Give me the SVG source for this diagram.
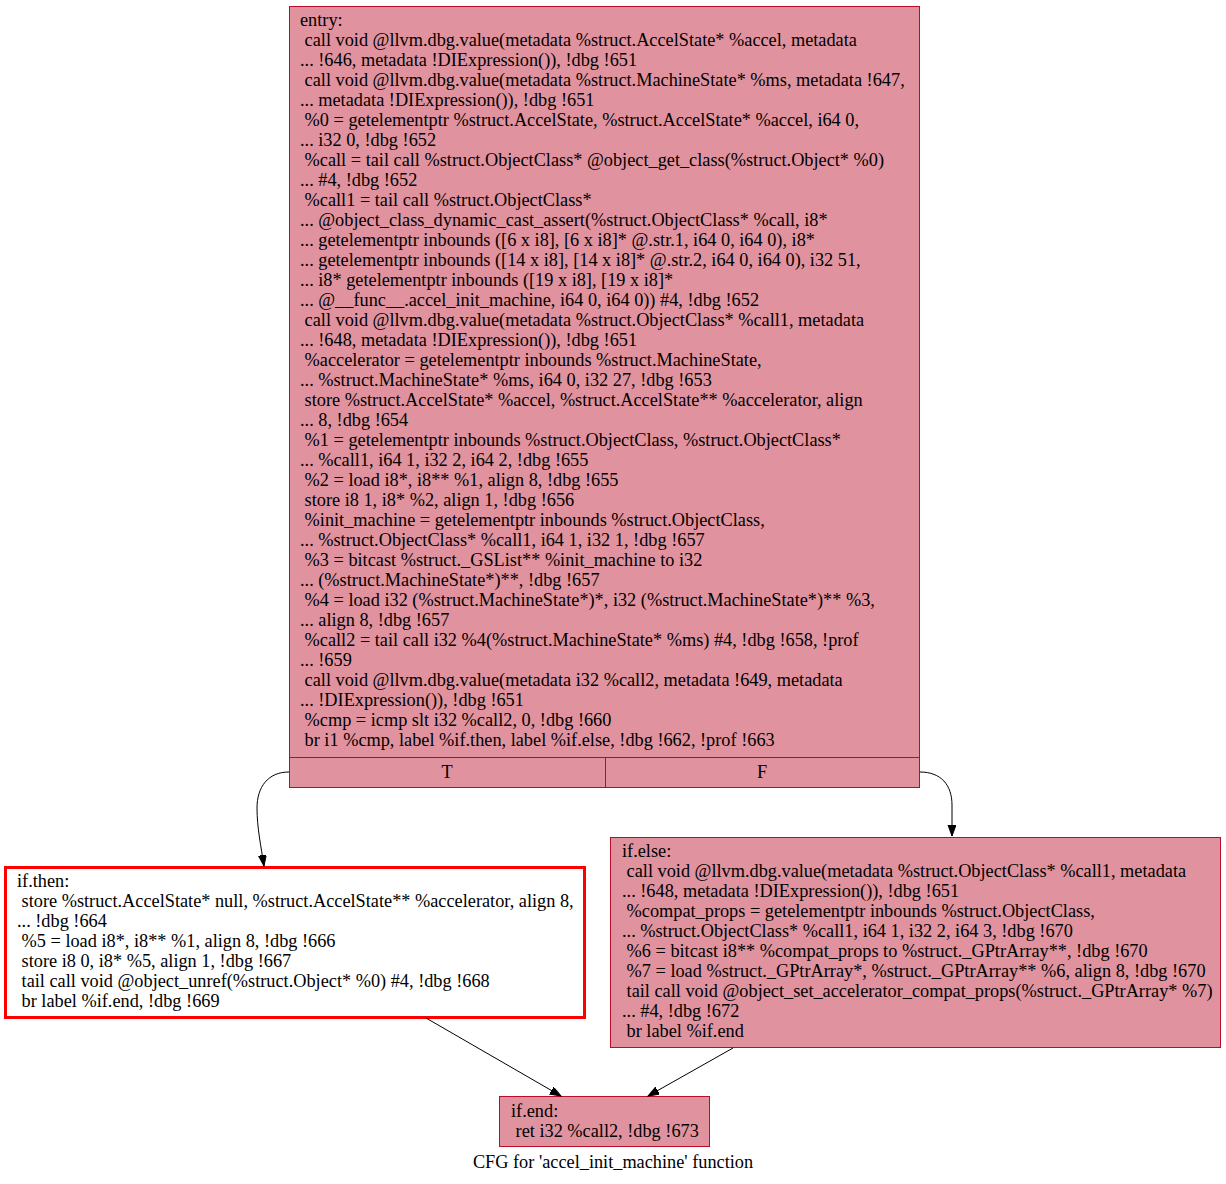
<svg xmlns="http://www.w3.org/2000/svg" width="1226" height="1184" viewBox="0 0 1226 1184" xml:space="preserve">
<defs>
<style>
text{font-family:"Liberation Serif","Times New Roman",serif;font-size:18.3px;fill:#000;white-space:pre}
.blk{fill:#e0939e;stroke:#b70d28;stroke-width:1}
.sel{fill:#ffffff;stroke:#ff0000;stroke-width:3}
.edge{fill:none;stroke:#000;stroke-width:1}
.mid{text-anchor:middle}
</style>
<marker id="arr" markerUnits="userSpaceOnUse" markerWidth="13" markerHeight="10" refX="11" refY="4" orient="auto" viewBox="0 0 13 10">
<path d="M0,0 L11,4 L0,8 z" fill="#000" stroke="#000" stroke-width="1"/>
</marker>
</defs>
<rect x="0" y="0" width="1226" height="1184" fill="#ffffff"/>

<g id="entry">
<rect class="blk" x="289.5" y="6.5" width="630" height="781"/>
<line x1="289.5" y1="757.5" x2="919.5" y2="757.5" stroke="#b70d28"/>
<line x1="605.5" y1="757.5" x2="605.5" y2="787.5" stroke="#b70d28"/>
<text x="300" y="26">entry:</text>
<text x="300" y="46"> call void @llvm.dbg.value(metadata %struct.AccelState* %accel, metadata</text>
<text x="300" y="66">... !646, metadata !DIExpression()), !dbg !651</text>
<text x="300" y="86"> call void @llvm.dbg.value(metadata %struct.MachineState* %ms, metadata !647,</text>
<text x="300" y="106">... metadata !DIExpression()), !dbg !651</text>
<text x="300" y="126"> %0 = getelementptr %struct.AccelState, %struct.AccelState* %accel, i64 0,</text>
<text x="300" y="146">... i32 0, !dbg !652</text>
<text x="300" y="166"> %call = tail call %struct.ObjectClass* @object_get_class(%struct.Object* %0)</text>
<text x="300" y="186">... #4, !dbg !652</text>
<text x="300" y="206"> %call1 = tail call %struct.ObjectClass*</text>
<text x="300" y="226">... @object_class_dynamic_cast_assert(%struct.ObjectClass* %call, i8*</text>
<text x="300" y="246">... getelementptr inbounds ([6 x i8], [6 x i8]* @.str.1, i64 0, i64 0), i8*</text>
<text x="300" y="266">... getelementptr inbounds ([14 x i8], [14 x i8]* @.str.2, i64 0, i64 0), i32 51,</text>
<text x="300" y="286">... i8* getelementptr inbounds ([19 x i8], [19 x i8]*</text>
<text x="300" y="306">... @__func__.accel_init_machine, i64 0, i64 0)) #4, !dbg !652</text>
<text x="300" y="326"> call void @llvm.dbg.value(metadata %struct.ObjectClass* %call1, metadata</text>
<text x="300" y="346">... !648, metadata !DIExpression()), !dbg !651</text>
<text x="300" y="366"> %accelerator = getelementptr inbounds %struct.MachineState,</text>
<text x="300" y="386">... %struct.MachineState* %ms, i64 0, i32 27, !dbg !653</text>
<text x="300" y="406"> store %struct.AccelState* %accel, %struct.AccelState** %accelerator, align</text>
<text x="300" y="426">... 8, !dbg !654</text>
<text x="300" y="446"> %1 = getelementptr inbounds %struct.ObjectClass, %struct.ObjectClass*</text>
<text x="300" y="466">... %call1, i64 1, i32 2, i64 2, !dbg !655</text>
<text x="300" y="486"> %2 = load i8*, i8** %1, align 8, !dbg !655</text>
<text x="300" y="506"> store i8 1, i8* %2, align 1, !dbg !656</text>
<text x="300" y="526"> %init_machine = getelementptr inbounds %struct.ObjectClass,</text>
<text x="300" y="546">... %struct.ObjectClass* %call1, i64 1, i32 1, !dbg !657</text>
<text x="300" y="566"> %3 = bitcast %struct._GSList** %init_machine to i32</text>
<text x="300" y="586">... (%struct.MachineState*)**, !dbg !657</text>
<text x="300" y="606"> %4 = load i32 (%struct.MachineState*)*, i32 (%struct.MachineState*)** %3,</text>
<text x="300" y="626">... align 8, !dbg !657</text>
<text x="300" y="646"> %call2 = tail call i32 %4(%struct.MachineState* %ms) #4, !dbg !658, !prof</text>
<text x="300" y="666">... !659</text>
<text x="300" y="686"> call void @llvm.dbg.value(metadata i32 %call2, metadata !649, metadata</text>
<text x="300" y="706">... !DIExpression()), !dbg !651</text>
<text x="300" y="726"> %cmp = icmp slt i32 %call2, 0, !dbg !660</text>
<text x="300" y="746"> br i1 %cmp, label %if.then, label %if.else, !dbg !662, !prof !663</text>
<text class="mid" x="447" y="778">T</text>
<text class="mid" x="762" y="778">F</text>
</g>

<g id="if.then">
<rect class="sel" x="5.5" y="867.5" width="579" height="150"/>
<text x="17" y="887">if.then:</text>
<text x="17" y="907"> store %struct.AccelState* null, %struct.AccelState** %accelerator, align 8,</text>
<text x="17" y="927">... !dbg !664</text>
<text x="17" y="947"> %5 = load i8*, i8** %1, align 8, !dbg !666</text>
<text x="17" y="967"> store i8 0, i8* %5, align 1, !dbg !667</text>
<text x="17" y="987"> tail call void @object_unref(%struct.Object* %0) #4, !dbg !668</text>
<text x="17" y="1007"> br label %if.end, !dbg !669</text>
</g>

<g id="if.else">
<rect class="blk" x="610.5" y="837.5" width="610" height="210"/>
<text x="622" y="857">if.else:</text>
<text x="622" y="877"> call void @llvm.dbg.value(metadata %struct.ObjectClass* %call1, metadata</text>
<text x="622" y="897">... !648, metadata !DIExpression()), !dbg !651</text>
<text x="622" y="917"> %compat_props = getelementptr inbounds %struct.ObjectClass,</text>
<text x="622" y="937">... %struct.ObjectClass* %call1, i64 1, i32 2, i64 3, !dbg !670</text>
<text x="622" y="957"> %6 = bitcast i8** %compat_props to %struct._GPtrArray**, !dbg !670</text>
<text x="622" y="977"> %7 = load %struct._GPtrArray*, %struct._GPtrArray** %6, align 8, !dbg !670</text>
<text x="622" y="997"> tail call void @object_set_accelerator_compat_props(%struct._GPtrArray* %7)</text>
<text x="622" y="1017">... #4, !dbg !672</text>
<text x="622" y="1037"> br label %if.end</text>
</g>

<g id="if.end">
<rect class="blk" x="499.5" y="1096.5" width="210" height="50"/>
<text x="511" y="1117">if.end:</text>
<text x="511" y="1137"> ret i32 %call2, !dbg !673</text>
</g>

<g id="edges">
<path class="edge" marker-end="url(#arr)" d="M289,772 C268,772 257,787 257,808 C257,828 261,846 264,866"/>
<path class="edge" marker-end="url(#arr)" d="M920,772 C941,772 952,785 952,805 L952,836"/>
<path class="edge" marker-end="url(#arr)" d="M426,1018 L561,1096"/>
<path class="edge" marker-end="url(#arr)" d="M733,1048 L648,1096"/>
</g>

<text class="mid" x="613" y="1168">CFG for 'accel_init_machine' function</text>
</svg>
